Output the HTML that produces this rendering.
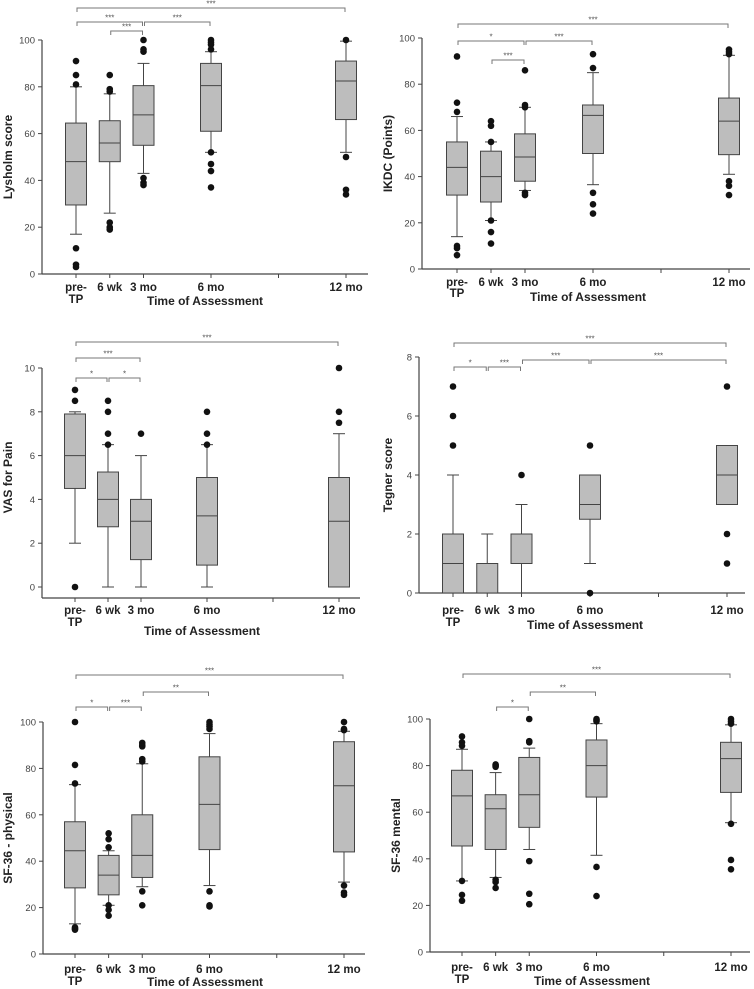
<!DOCTYPE html>
<html><head><meta charset="utf-8">
<style>
html,body{margin:0;padding:0;background:#fff;}
svg{display:block;font-family:"Liberation Sans",sans-serif;}
</style></head>
<body>
<svg id="fig" width="754" height="989" viewBox="0 0 754 989"></svg>
<script>
// ---- data ----
const months = [0, 1.5, 3, 6, 12];
const catLabels = ["pre-", "6 wk", "3 mo", "6 mo", "12 mo"];

const lysQ1 = [29.5, 48, 55, 61, 66];
const lysMed = [48, 56, 68, 80.5, 82.5];
const lysQ3 = [64.5, 65.5, 80.5, 90, 91];
const lysLo = [17, 26, 43, 52, 52];
const lysHi = [80, 77, 90, 95, 99.5];
const lysOut = [[91,85,81,11,4,3],[85,79,78,22,20,19],[100,96,95,41,39,38],[100,99,98,96,52,47,44,37],[100,50,36,34]];

const ikdcQ1 = [32, 29, 38, 50, 49.5];
const ikdcMed = [44, 40, 48.5, 66.5, 64];
const ikdcQ3 = [55, 51, 58.5, 71, 74];
const ikdcLo = [14, 21, 34, 36.5, 41];
const ikdcHi = [66, 55, 70, 85, 92.5];
const ikdcOut = [[92,72,68,10,9,6],[64,62,55,21,16,11],[86,71,70,33,32],[93,87,33,28,24],[95,94,93,38,36,32]];

const vasQ1 = [4.5, 2.75, 1.25, 1, 0];
const vasMed = [6, 4, 3, 3.25, 3];
const vasQ3 = [7.9, 5.25, 4, 5, 5];
const vasLo = [2, 0, 0, 0, 0];
const vasHi = [8, 6.5, 6, 6.5, 7];
const vasOut = [[9,8.5,0],[8.5,8,7,6.5],[7],[8,7,6.5],[10,8,7.5]];

const tegQ1 = [0, 0, 1, 2.5, 3];
const tegMed = [1, 0, 1, 3, 4];
const tegQ3 = [2, 1, 2, 4, 5];
const tegLo = [0, 0, 0, 1, 3];
const tegHi = [4, 2, 3, 4, 5];
const tegOut = [[7,6,5],[],[4],[5,0],[7,2,1]];

const sfpQ1 = [28.5, 25.5, 33, 45, 44];
const sfpMed = [44.5, 34, 42.5, 64.5, 72.5];
const sfpQ3 = [57, 42.5, 60, 85, 91.5];
const sfpLo = [13, 21, 29, 29.5, 31];
const sfpHi = [73, 44.5, 82, 95, 96];
const sfpOut = [[100,81.5,73.5,11.5,11,10.5],[52,49.5,46,21,19,16.5],[91,90,89.5,84,83,27,21],[100,99,98,97,27,21,20.5],[100,97,96.5,29.5,26.5,25.5]];

const sfmQ1 = [45.5, 44, 53.5, 66.5, 68.5];
const sfmMed = [67, 61.5, 67.5, 80, 83];
const sfmQ3 = [78, 67.5, 83.5, 91, 90];
const sfmLo = [30.5, 32, 44, 41.5, 55.5];
const sfmHi = [87, 77, 87.5, 98, 97.5];
const sfmOut = [[92.5,90,88.5,30.5,24.5,22],[80.5,80,79.5,31,30,27.5],[100,90.5,90,39,25,20.5],[100,99.5,99,36.5,24],[100,99,98,55,39.5,35.5]];

// ---- panel layout ----
const panels = [
 {name:"lysholm", title:"Lysholm score", ax:42, x0:76, x12:346, xr:368, yTop:40, yBot:274, axisY:274, yMax:100, yStep:20,
  q1:lysQ1, med:lysMed, q3:lysQ3, lo:lysLo, hi:lysHi, out:lysOut, ty:12, catY:291, tpY:303, timeY:305, timeX:205,
  br:[[0,4,8,"***"],[0,2,22,"***"],[2,3,22,"***"],[1,2,31,"***"]]},
 {name:"ikdc", title:"IKDC (Points)", ax:422, x0:457, x12:729, xr:750, yTop:38, yBot:269, axisY:269, yMax:100, yStep:20,
  q1:ikdcQ1, med:ikdcMed, q3:ikdcQ3, lo:ikdcLo, hi:ikdcHi, out:ikdcOut, ty:392, catY:286, tpY:297, timeY:301, timeX:588,
  br:[[0,4,24,"***"],[0,2,41,"*"],[2,3,41,"***"],[1,2,60,"***"]]},
 {name:"vas", title:"VAS for Pain", ax:42, x0:75, x12:339, xr:360, yTop:368, yBot:587, axisY:598, yMax:10, yStep:2,
  q1:vasQ1, med:vasMed, q3:vasQ3, lo:vasLo, hi:vasHi, out:vasOut, ty:12, catY:614, tpY:626, timeY:635, timeX:202,
  br:[[0,4,342,"***"],[0,2,358,"***"],[0,1,378,"*"],[1,2,378,"*"]]},
 {name:"tegner", title:"Tegner score", ax:419, x0:453, x12:727, xr:745, yTop:357, yBot:593, axisY:593, yMax:8, yStep:2,
  q1:tegQ1, med:tegMed, q3:tegQ3, lo:tegLo, hi:tegHi, out:tegOut, ty:392, catY:614, tpY:626, timeY:629, timeX:585,
  br:[[0,4,343,"***"],[2,3,360,"***"],[3,4,360,"***"],[0,1,367,"*"],[1,2,367,"***"]]},
 {name:"sf36-physical", title:"SF-36 - physical", ax:43, x0:75, x12:344, xr:365, yTop:722, yBot:954, axisY:954, yMax:100, yStep:20,
  q1:sfpQ1, med:sfpMed, q3:sfpQ3, lo:sfpLo, hi:sfpHi, out:sfpOut, ty:12, catY:973, tpY:985, timeY:986, timeX:205,
  br:[[0,4,675,"***"],[2,3,692,"**"],[0,1,707,"*"],[1,2,707,"***"]]},
 {name:"sf36-mental", title:"SF-36  mental", ax:430, x0:462, x12:731, xr:750, yTop:719, yBot:952, axisY:952, yMax:100, yStep:20,
  q1:sfmQ1, med:sfmMed, q3:sfmQ3, lo:sfmLo, hi:sfmHi, out:sfmOut, ty:400, catY:971, tpY:983, timeY:985, timeX:592,
  br:[[0,4,674,"***"],[2,3,692,"**"],[1,2,707,"*"]]}
];

const NS = "http://www.w3.org/2000/svg";
const fig = document.getElementById("fig");
function mk(tag, attrs, parent){
  const e = document.createElementNS(NS, tag);
  for (const k in attrs) e.setAttribute(k, attrs[k]);
  parent.appendChild(e);
  return e;
}

panels.forEach(p => {
  const g = mk("g", {}, fig);
  
  
  const xS = m => p.x0 + m * (p.x12 - p.x0) / 12;
  const yS = v => p.yBot - v * (p.yBot - p.yTop) / p.yMax;

  // y axis
  const ya = mk("line", {x1:p.ax, y1:p.yTop, x2:p.ax, y2:p.axisY, stroke:"#444", "stroke-width":1.2}, g);
  
  
  for (let v = 0; v <= p.yMax; v += p.yStep) {
    const y = yS(v);
    mk("line", {x1:p.ax-4, y1:y, x2:p.ax, y2:y, stroke:"#444", "stroke-width":1}, g);
    const t = mk("text", {x:p.ax-7, y:y+3.5, "text-anchor":"end", "font-size":9.5, fill:"#444"}, g);
    t.textContent = v;
    
    
  }
  // x axis
  const xa = mk("line", {x1:p.ax, y1:p.axisY, x2:p.xr, y2:p.axisY, stroke:"#444", "stroke-width":1.2}, g);
  
  
  [0,1.5,3,6,9,12].forEach(m => {
    mk("line", {x1:xS(m), y1:p.axisY, x2:xS(m), y2:p.axisY+4, stroke:"#444", "stroke-width":1}, g);
  });
  months.forEach((m, i) => {
    const t = mk("text", {x:xS(m), y:p.catY, "text-anchor":"middle", "font-size":11.5, "font-weight":"bold", fill:"#222"}, g);
    t.textContent = catLabels[i];
    
    
  });
  const tp = mk("text", {x:xS(0), y:p.tpY, "text-anchor":"middle", "font-size":11.5, "font-weight":"bold", fill:"#222"}, g);
  tp.textContent = "TP";
  
  
  const xt = mk("text", {x:p.timeX, y:p.timeY, "text-anchor":"middle", "font-size":12, "font-weight":"bold", fill:"#222"}, g);
  xt.textContent = "Time of Assessment";
  
  
  const cy = (p.yTop + p.yBot) / 2;
  const yt = mk("text", {x:p.ty, y:cy, "text-anchor":"middle", "font-size":12, "font-weight":"bold", fill:"#222", transform:`rotate(-90 ${p.ty} ${cy})`}, g);
  yt.textContent = p.title;
  
  

  // boxes
  months.forEach((m, i) => {
    const x = xS(m), w = 21;
    const bg = mk("g", {}, g);
    
    
    mk("line", {x1:x, y1:yS(p.lo[i]), x2:x, y2:yS(p.q1[i]), stroke:"#444", "stroke-width":1}, bg);
    mk("line", {x1:x, y1:yS(p.q3[i]), x2:x, y2:yS(p.hi[i]), stroke:"#444", "stroke-width":1}, bg);
    mk("line", {x1:x-6, y1:yS(p.lo[i]), x2:x+6, y2:yS(p.lo[i]), stroke:"#444", "stroke-width":1}, bg);
    mk("line", {x1:x-6, y1:yS(p.hi[i]), x2:x+6, y2:yS(p.hi[i]), stroke:"#444", "stroke-width":1}, bg);
    mk("rect", {x:x-w/2, y:yS(p.q3[i]), width:w, height:yS(p.q1[i])-yS(p.q3[i]), fill:"#bdbdbd", stroke:"#444", "stroke-width":1}, bg);
    mk("line", {x1:x-w/2, y1:yS(p.med[i]), x2:x+w/2, y2:yS(p.med[i]), stroke:"#444", "stroke-width":1}, bg);
    p.out[i].forEach(v => {
      const c = mk("circle", {cx:x, cy:yS(v), r:3.3, fill:"#111"}, bg);
      
      
    });
  });

  // significance brackets
  p.br.forEach(b => {
    const xa1 = xS(months[b[0]]) + 1, xb1 = xS(months[b[1]]) - 1, y = b[2];
    const bk = mk("g", {}, g);
    
    
    mk("path", {d:`M${xa1},${y+4}V${y}H${xb1}V${y+4}`, fill:"none", stroke:"#777", "stroke-width":1}, bk);
    const t = mk("text", {x:(xa1+xb1)/2, y:y-1.5, "text-anchor":"middle", "font-size":8, fill:"#555"}, bk);
    t.textContent = b[3];
  });
});
</script>
</body></html>
